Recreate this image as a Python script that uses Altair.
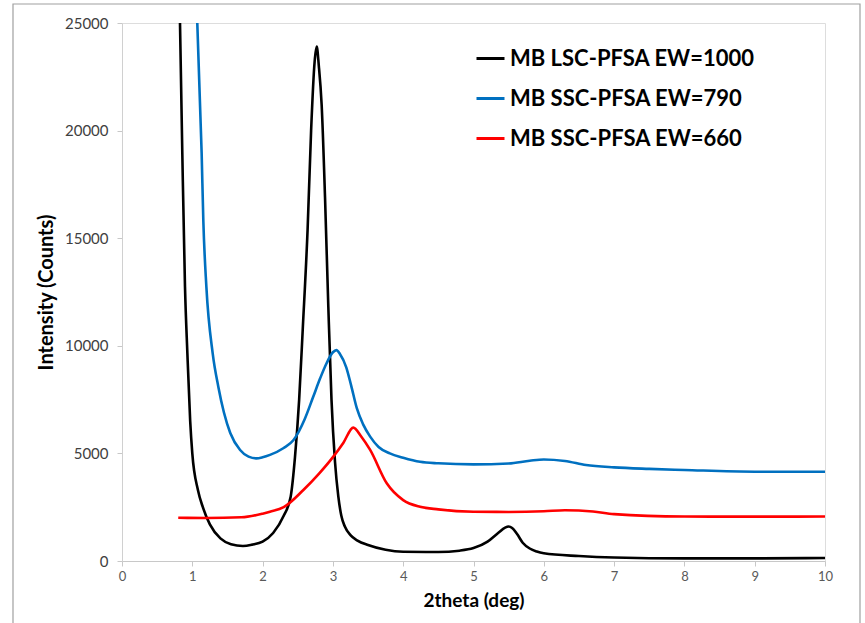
import altair as alt
import pandas as pd

# Black: MB LSC-PFSA EW=1000
lsc_x = [0.825, 0.858, 0.896, 0.93, 0.97, 1.0, 1.08, 1.15, 1.25, 1.4, 1.55, 1.72, 1.85, 2.0, 2.15,
         2.3, 2.4, 2.46, 2.52, 2.57, 2.64, 2.69, 2.74, 2.77, 2.8, 2.84, 2.888, 2.935, 2.98, 3.03,
         3.077, 3.12, 3.17, 3.25, 3.35, 3.5, 3.75, 4.0, 4.5, 4.8, 5.0, 5.2, 5.35, 5.45, 5.5, 5.55, 5.62,
         5.7, 5.8, 5.9, 6.0, 6.5, 7.0, 8.0, 9.0, 10.0]
lsc_y = [25000, 18940, 12750, 9650, 6500, 5000, 3300, 2500, 1700, 1050, 780, 700, 760, 900, 1300,
         2100, 3000, 4800, 7500, 10700, 15400, 20000, 23200, 23900, 23000, 21200, 16900, 11800, 7500, 4600,
         3000, 2100, 1600, 1200, 950, 740, 520, 430, 420, 480, 600, 900, 1300, 1550, 1600, 1530, 1250,
         850, 580, 440, 360, 230, 160, 120, 120, 140]

# Blue: MB SSC-PFSA EW=790
ssc790_x = [1.071, 1.133, 1.157, 1.2, 1.29, 1.37, 1.45, 1.54, 1.68, 1.8, 1.91, 2.0, 2.105, 2.3, 2.44,
            2.6, 2.72, 2.82, 2.91, 3.0, 3.05, 3.1, 3.19, 3.26, 3.34, 3.43, 3.53, 3.65, 3.81, 4.0, 4.24,
            4.5, 5.0, 5.5, 5.8, 6.0, 6.3, 6.6, 7.0, 7.5, 8.0, 9.0, 10.0]
ssc790_y = [25000, 18940, 15800, 12750, 9650, 8100, 6900, 5950, 5160, 4850, 4770, 4820, 4930, 5250, 5620,
            6600, 7630, 8500, 9190, 9700, 9800, 9620, 9000, 8150, 7100, 6350, 5780, 5300, 5000, 4800, 4610,
            4540, 4490, 4530, 4660, 4720, 4650, 4460, 4350, 4280, 4230, 4150, 4150]

# Red: MB SSC-PFSA EW=660
ssc660_x = [0.8, 1.2, 1.7, 2.0, 2.105, 2.3, 2.58, 2.8, 3.006, 3.15, 3.29, 3.4, 3.53, 3.766, 4.0, 4.24,
            4.5, 5.0, 5.5, 6.0, 6.3, 6.7, 7.0, 8.0, 9.0, 10.0]
ssc660_y = [2010, 2000, 2030, 2200, 2290, 2500, 3300, 4050, 4850, 5500, 6200, 5800, 5160, 3610, 2830, 2520,
            2400, 2290, 2280, 2310, 2360, 2300, 2180, 2070, 2060, 2070]

series_names = ["MB LSC-PFSA EW=1000", "MB SSC-PFSA EW=790", "MB SSC-PFSA EW=660"]
series_colors = ["#000000", "#0070C0", "#FF0000"]

x_ticks = list(range(0, 11))
y_ticks = [0, 5000, 10000, 15000, 20000, 25000]

rows = []
for name, xs, ys in zip(series_names, [lsc_x, ssc790_x, ssc660_x], [lsc_y, ssc790_y, ssc660_y]):
    for i, (a, b) in enumerate(zip(xs, ys)):
        rows.append({"series": name, "x": a, "y": b, "order": i})
df = pd.DataFrame(rows)

FONT = "Lato"

lines = alt.Chart(df).mark_line(strokeWidth=2.6, interpolate="monotone", clip=True).encode(
    x=alt.X("x:Q", scale=alt.Scale(domain=[0, 10], nice=False),
            axis=alt.Axis(title="2theta (deg)", values=x_ticks, format="d", grid=False, labelFlush=False,
                          domainColor="#c8c8c8", tickColor="#c8c8c8", tickSize=5,
                          labelFont=FONT, labelFontSize=13, labelColor="#595959", labelPadding=4,
                          titleFont=FONT, titleFontSize=19, titleFontWeight="bold", titleColor="#000000",
                          titlePadding=8)),
    y=alt.Y("y:Q", scale=alt.Scale(domain=[0, 25000], nice=False),
            axis=alt.Axis(title="Intensity (Counts)", values=y_ticks, format="d", grid=False, labelFlush=False,
                          domainColor="#d0d0d0", tickColor="#c8c8c8", tickSize=5,
                          labelFont=FONT, labelFontSize=15, labelColor="#404040", labelPadding=9,
                          titleFont=FONT, titleFontSize=20, titleFontWeight="bold", titleColor="#000000",
                          titlePadding=8)),
    color=alt.Color("series:N", scale=alt.Scale(domain=series_names, range=series_colors),
                    legend=alt.Legend(title=None, orient="none", legendX=353, legendY=20,
                                      symbolType="stroke", symbolSize=784, symbolStrokeWidth=3,
                                      labelFont=FONT, labelFontSize=22, labelFontWeight="bold",
                                      labelColor="#000000", labelOffset=4, rowPadding=13, padding=0,
                                      labelLimit=400)),
    order="order:Q",
    detail="series:N",
)

frame = alt.Chart(pd.DataFrame({"k": [0]})).mark_rect(
    fill=None, stroke="#a0a0a0", strokeWidth=1.2, clip=False
).encode(x=alt.value(-109), x2=alt.value(738), y=alt.value(-19), y2=alt.value(640))

chart = alt.layer(frame, lines).properties(
    width=703, height=538,
    autosize=alt.AutoSizeParams(type="none"),
    padding={"left": 122, "top": 23, "right": 40, "bottom": 62},
).configure_view(stroke=None).configure(background="white")

chart.save("out.html", embed_options={"renderer": "svg", "actions": False})
